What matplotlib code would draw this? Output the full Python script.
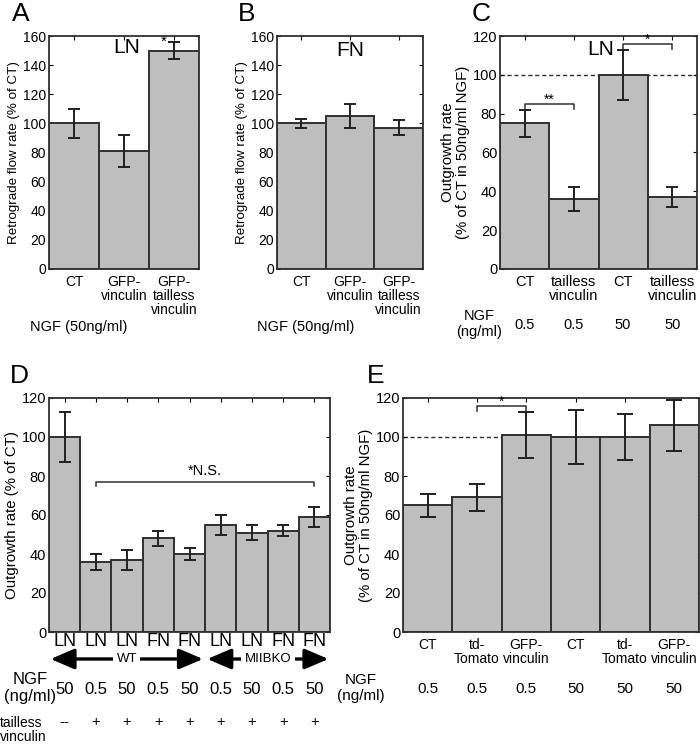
import numpy as np
import matplotlib
matplotlib.use("Agg")
from matplotlib import pyplot as plt
from matplotlib.transforms import blended_transform_factory

plt.rcParams['font.family'] = ['Liberation Sans', 'DejaVu Sans']

# panel A / B: retrograde flow
a_labels = ['CT', 'GFP-\nvinculin', 'GFP-\ntailless\nvinculin']
a_vals = [100, 81, 150]
a_err = [10, 11, 6]
b_vals = [100, 105, 97]
b_err = [3, 8, 5]

# panel C
c_labels = ['CT', 'tailless\nvinculin', 'CT', 'tailless\nvinculin']
c_vals = [75, 36, 100, 37]
c_err = [7, 6, 13, 5]
c_ngf = ['0.5', '0.5', '50', '50']

# panel D
d_labels = ['LN', 'LN', 'LN', 'FN', 'FN', 'LN', 'LN', 'FN', 'FN']
d_vals = [100, 36, 37, 48, 40, 55, 51, 52, 59]
d_err = [13, 4, 5, 4, 3, 5, 4, 3, 5]
d_ngf = ['50', '0.5', '50', '0.5', '50', '0.5', '50', '0.5', '50']
d_tailless = ['--', '+', '+', '+', '+', '+', '+', '+', '+']

# panel E
e_labels = ['CT', 'td-\nTomato', 'GFP-\nvinculin', 'CT', 'td-\nTomato', 'GFP-\nvinculin']
e_vals = [65, 69, 101, 100, 100, 106]
e_err = [6, 7, 12, 14, 12, 13]
e_ngf = ['0.5', '0.5', '0.5', '50', '50', '50']

W, H = 700, 745
fig = plt.figure(figsize=(W / 100, H / 100), dpi=100)


def px_axes(l, t, r, b):
    return fig.add_axes([l / W, 1 - b / H, (r - l) / W, (b - t) / H])


def ftxt(x, y, s, **kw):
    fig.text(x / W, 1 - y / H, s, **kw)


def bars(ax, vals, err, labels, ymax, step, cap=4, xfs=10, yfs=10):
    x = np.arange(len(vals))
    ax.bar(x, vals, width=1.0, color='#bebebe', edgecolor='#303030', linewidth=1.4, zorder=2)
    ax.errorbar(x, vals, yerr=err, fmt='none', ecolor='#202020', elinewidth=1.4,
                capsize=cap, capthick=1.4, zorder=3)
    ax.set_xlim(-0.5, len(vals) - 0.5)
    ax.set_ylim(0, ymax)
    ax.set_yticks(np.arange(0, ymax + 1, step))
    ax.set_xticks(x)
    ax.set_xticklabels(labels, fontsize=xfs, linespacing=1.0)
    ax.tick_params(axis='y', labelsize=yfs, direction='in', right=True, length=3, pad=2)
    ax.tick_params(axis='x', direction='in', top=True, bottom=False, length=3, pad=4)
    for s in ax.spines.values():
        s.set_linewidth(1.3)
        s.set_color('#303030')
    return x


def bracket(ax, x0, x1, y, txt, d=2.5):
    ax.plot([x0, x0, x1, x1], [y - d, y, y, y - d], color='#303030', lw=1.1, zorder=4)
    ax.text((x0 + x1) / 2, y - 1.5, txt, ha='center', va='bottom', fontsize=10)


# ---- A
axA = px_axes(49, 36, 199, 269)
bars(axA, a_vals, a_err, a_labels, 160, 20, cap=4)
axA.set_ylabel('Retrograde flow rate (% of CT)', fontsize=9.6, labelpad=2)
axA.text(1.05, 152, 'LN', fontsize=15, ha='center', va='center')
axA.text(1.8, 151, '*', fontsize=11, ha='center', va='bottom')
ftxt(12, 2, 'A', fontsize=19, va='top')
ftxt(30, 327, 'NGF (50ng/ml)', fontsize=10.5, va='center')

# ---- B
axB = px_axes(277, 36, 423, 269)
bars(axB, b_vals, b_err, a_labels, 160, 20, cap=4)
axB.set_ylabel('Retrograde flow rate (% of CT)', fontsize=9.6, labelpad=2)
axB.text(1, 150, 'FN', fontsize=15, ha='center', va='center')
ftxt(238, 2, 'B', fontsize=19, va='top')
ftxt(257, 327, 'NGF (50ng/ml)', fontsize=10.5, va='center')

# ---- C
axC = px_axes(500, 36, 697, 269)
xc = bars(axC, c_vals, c_err, c_labels, 120, 20, cap=4.5, xfs=10.5, yfs=10.5)
axC.set_ylabel('Outgrowth rate\n(% of CT in 50ng/ml NGF)', fontsize=10.8, labelpad=2, linespacing=1.05)
axC.axhline(100, color='#303030', ls=(0, (3, 2)), lw=1.0, zorder=1)
axC.text(1.55, 113, 'LN', fontsize=15, ha='center', va='center')
bracket(axC, 0, 1, 85, '**')
bracket(axC, 2, 3, 116, '*')
ftxt(472, 2, 'C', fontsize=19, va='top')
ftxt(479, 324, 'NGF\n(ng/ml)', fontsize=10.5, ha='center', va='center', linespacing=1.15)
tC = blended_transform_factory(axC.transData, fig.transFigure)
for xi, v in zip(xc, c_ngf):
    axC.text(xi, 1 - 325 / H, v, transform=tC, ha='center', va='center', fontsize=10.5)

# ---- D
axD = px_axes(49, 398, 330, 632)
xd = bars(axD, d_vals, d_err, d_labels, 120, 20, cap=4, xfs=13, yfs=10.5)
axD.tick_params(axis='x', pad=1)
axD.set_ylabel('Outgrowth rate (% of CT)', fontsize=10.8, labelpad=2)
axD.plot([1, 1, 8, 8], [75, 77, 77, 75], color='#303030', lw=1.1)
axD.text(4.5, 79, '*N.S.', fontsize=10.5, ha='center', va='bottom')
ftxt(10, 364, 'D', fontsize=19, va='top')
tD = blended_transform_factory(axD.transData, fig.transFigure)
ya = 1 - 659 / H
for (x0, x1, lab) in [(-0.45, 4.43, 'WT'), (4.57, 8.45, 'MIIBKO')]:
    axD.annotate('', xy=(x0, ya), xytext=(x1, ya), xycoords=tD, textcoords=tD,
                 arrowprops=dict(arrowstyle='<|-|>,head_length=1.45,head_width=0.62',
                                 color='black', lw=2.4, shrinkA=0, shrinkB=0),
                 annotation_clip=False)
    axD.text((x0 + x1) / 2, ya, lab, transform=tD, ha='center', va='center', fontsize=9.5,
             bbox=dict(facecolor='white', edgecolor='none', pad=2.5))
for xi, v, t in zip(xd, d_ngf, d_tailless):
    axD.text(xi, 1 - 690 / H, v, transform=tD, ha='center', va='center', fontsize=12)
    axD.text(xi, 1 - 722 / H, t, transform=tD, ha='center', va='center', fontsize=10.5)
ftxt(30, 688, 'NGF\n(ng/ml)', fontsize=12, ha='center', va='center', linespacing=1.1)
ftxt(0, 730, 'tailless\nvinculin', fontsize=10, ha='left', va='center', linespacing=1.05)

# ---- E
axE = px_axes(403, 398, 699, 632)
xe = bars(axE, e_vals, e_err, e_labels, 120, 20, cap=6, xfs=10, yfs=10.5)
axE.set_ylabel('Outgrowth rate\n(% of CT in 50ng/ml NGF)', fontsize=10.8, labelpad=2, linespacing=1.05)
axE.plot([-0.5, 2], [100, 100], color='#303030', ls=(0, (3, 2)), lw=1.0, zorder=1)
bracket(axE, 1, 2, 116, '*')
ftxt(367, 364, 'E', fontsize=19, va='top')
ftxt(361, 688, 'NGF\n(ng/ml)', fontsize=11, ha='center', va='center', linespacing=1.15)
tE = blended_transform_factory(axE.transData, fig.transFigure)
for xi, v in zip(xe, e_ngf):
    axE.text(xi, 1 - 689 / H, v, transform=tE, ha='center', va='center', fontsize=11)

fig.savefig('out.png', dpi=100)
